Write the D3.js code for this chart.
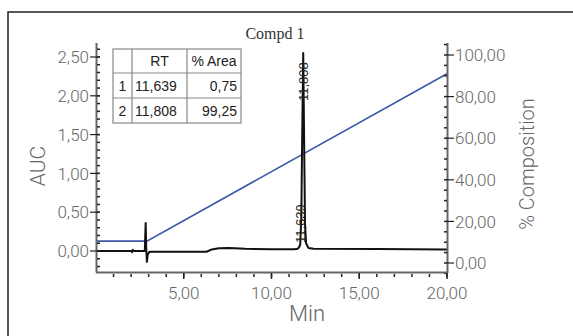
<!DOCTYPE html>
<html>
<head>
<meta charset="utf-8">
<script src="https://cdn.jsdelivr.net/npm/d3@7"></script>
<style>
  body { margin: 0; background: #fff; }
  svg text { font-family: "Liberation Sans", Arial, sans-serif; }
  .lbl { font-family: Roboto, "Liberation Sans", sans-serif; font-weight: 300; }
</style>
</head>
<body>
<script>
// chromatogram trace (time in min, AUC)
const traceTime = [0, 2.0, 2.05, 2.1, 2.15, 2.78, 2.83, 2.86, 2.9, 2.95, 3.05, 3.3, 6.3, 6.6, 7.0, 7.6, 8.5, 10.0, 11.3, 11.5, 11.6, 11.639, 11.7, 11.75, 11.808, 11.86, 11.91, 11.97, 12.1, 12.4, 16.0, 20.0];
const traceAUC  = [0, 0, -0.015, 0.015, 0, 0, 0.36, 0.05, -0.14, -0.04, -0.01, -0.01, -0.01, 0.02, 0.035, 0.04, 0.03, 0.022, 0.022, 0.03, 0.06, 0.09, 0.45, 1.5, 2.55, 1.4, 0.35, 0.1, 0.04, 0.03, 0.025, 0.02];

// gradient (% composition)
const gradTime = [0, 2.9, 20];
const gradComp = [10.5, 10.5, 91];

// peak table
const peakNo = ["1", "2"];
const peakRT = ["11,639", "11,808"];
const peakArea = ["0,75", "99,25"];

const auTicks = [0, 0.5, 1, 1.5, 2, 2.5];
const compTicks = [0, 20, 40, 60, 80, 100];
const minTicks = [5, 10, 15, 20];

const W = 573, H = 336;
const svg = d3.select("body").append("svg").attr("width", W).attr("height", H);

const loc = d3.formatLocale({decimal: ",", thousands: ".", grouping: [3], currency: ["", ""]});
const fmt = loc.format(".2f");

// scales
const X = d3.scaleLinear().domain([0, 20]).range([96, 447]);
const YL = d3.scaleLinear().domain([0, 2.5]).range([251, 57]);
const YR = d3.scaleLinear().domain([0, 100]).range([263, 55]);

// outer frame
svg.append("rect").attr("x", 8).attr("y", 12).attr("width", 700).attr("height", 500)
  .attr("fill", "none").attr("stroke", "#222").attr("stroke-width", 1.5);

// title
svg.append("text").attr("x", 275).attr("y", 39).attr("text-anchor", "middle")
  .style("font-family", "'Liberation Serif', 'DejaVu Serif', serif").style("font-size", "16px")
  .attr("fill", "#333").text("Compd 1");

const axisCol = "#666";
const tickCol = "#222";
const lblCol = "#666";

// gradient line (under axes)
const gradPts = gradTime.map((t, i) => [X(t), YR(gradComp[i])]);
svg.append("path").attr("d", d3.line()(gradPts))
  .attr("fill", "none").attr("stroke", "#3d57a8").attr("stroke-width", 1.6);

// trace
const tracePts = traceTime.map((t, i) => [X(t), YL(traceAUC[i])]);
svg.append("path").attr("d", d3.line()(tracePts))
  .attr("fill", "none").attr("stroke", "#111").attr("stroke-width", 2).attr("stroke-linejoin", "round");

// left axis
const gL = svg.append("g");
gL.append("line").attr("x1", 96.5).attr("x2", 96.5).attr("y1", 43).attr("y2", 272.5)
  .attr("stroke", axisCol).attr("stroke-width", 2);
d3.range(-2, 27).forEach(k => {
  const y = YL(k / 10);
  gL.append("line").attr("x1", 97).attr("x2", 100).attr("y1", y).attr("y2", y)
    .attr("stroke", tickCol).attr("stroke-width", 1.5);
});
auTicks.forEach(v => {
  gL.append("line").attr("x1", 90).attr("x2", 100).attr("y1", YL(v)).attr("y2", YL(v))
    .attr("stroke", tickCol).attr("stroke-width", 1.2);
  gL.append("text").attr("class", "lbl").attr("x", 89).attr("y", YL(v)).attr("dy", "0.36em").attr("text-anchor", "end")
    .style("font-size", "17px").attr("fill", lblCol).text(fmt(v));
});
svg.append("text").attr("class", "lbl").attr("transform", "translate(45,166) rotate(-90)").attr("text-anchor", "middle")
  .style("font-size", "21px").attr("fill", lblCol).text("AUC");

// right axis
const gR = svg.append("g");
gR.append("line").attr("x1", 447.5).attr("x2", 447.5).attr("y1", 43).attr("y2", 273)
  .attr("stroke", axisCol).attr("stroke-width", 2);
d3.range(-1, 22).forEach(k => {
  const y = YR(k * 5);
  gR.append("line").attr("x1", 444).attr("x2", 447).attr("y1", y).attr("y2", y)
    .attr("stroke", tickCol).attr("stroke-width", 1.5);
});
compTicks.forEach(v => {
  gR.append("line").attr("x1", 447).attr("x2", 454).attr("y1", YR(v)).attr("y2", YR(v))
    .attr("stroke", tickCol).attr("stroke-width", 1.2);
  gR.append("text").attr("class", "lbl").attr("x", 455).attr("y", YR(v)).attr("dy", "0.36em").attr("text-anchor", "start")
    .style("font-size", "17px").attr("fill", lblCol).text(fmt(v));
});
svg.append("text").attr("class", "lbl").attr("transform", "translate(534,164) rotate(-90)").attr("text-anchor", "middle")
  .style("font-size", "20px").attr("fill", lblCol).text("% Composition");

// x axis
const gX = svg.append("g");
gX.append("line").attr("x1", 96).attr("x2", 448).attr("y1", 272.5).attr("y2", 272.5)
  .attr("stroke", axisCol).attr("stroke-width", 2);
d3.range(1, 21).forEach(k => {
  gX.append("line").attr("x1", X(k)).attr("x2", X(k)).attr("y1", 274).attr("y2", 277)
    .attr("stroke", tickCol).attr("stroke-width", 1.5);
});
minTicks.forEach(v => {
  gX.append("line").attr("x1", X(v)).attr("x2", X(v)).attr("y1", 273).attr("y2", 279)
    .attr("stroke", tickCol).attr("stroke-width", 1.5);
  gX.append("text").attr("class", "lbl").attr("x", X(v)).attr("y", 299).attr("text-anchor", "middle")
    .style("font-size", "17px").attr("fill", lblCol).text(fmt(v));
});
svg.append("text").attr("class", "lbl").attr("x", 307).attr("y", 321).attr("text-anchor", "middle")
  .style("font-size", "22px").attr("fill", lblCol).text("Min");

// peak labels
const peakLabelY = [243, 101];
peakRT.forEach((rt, i) => {
  const t = +rt.replace(",", ".");
  svg.append("text").attr("transform", `translate(${X(t) + 5},${peakLabelY[i]}) rotate(-90)`)
    .style("font-size", "13px").attr("fill", "#222").text(rt);
});

// peak table
const tx = [113, 132, 187, 241];
const ty = [49, 73, 98, 123];
const tg = svg.append("g");
tg.append("rect").attr("x", tx[0]).attr("y", ty[0]).attr("width", tx[3] - tx[0]).attr("height", ty[3] - ty[0])
  .attr("fill", "#fff").attr("stroke", "#888").attr("stroke-width", 1.2);
tx.slice(1, 3).forEach(x => tg.append("line").attr("x1", x).attr("x2", x).attr("y1", ty[0]).attr("y2", ty[3]).attr("stroke", "#888").attr("stroke-width", 1.2));
ty.slice(1, 3).forEach(y => tg.append("line").attr("x1", tx[0]).attr("x2", tx[3]).attr("y1", y).attr("y2", y).attr("stroke", "#888").attr("stroke-width", 1.2));
const cellText = (x, y, s, anchor) => tg.append("text").attr("x", x).attr("y", y).attr("dy", "0.36em")
  .attr("text-anchor", anchor).style("font-size", "14px").attr("fill", "#222").text(s);
cellText((tx[1] + tx[2]) / 2, (ty[0] + ty[1]) / 2, "RT", "middle");
cellText((tx[2] + tx[3]) / 2, (ty[0] + ty[1]) / 2, "% Area", "middle");
peakNo.forEach((n, i) => {
  const yc = (ty[i + 1] + ty[i + 2]) / 2;
  cellText((tx[0] + tx[1]) / 2, yc, n, "middle");
  cellText(tx[1] + 3, yc, peakRT[i], "start");
  cellText(tx[3] - 4, yc, peakArea[i], "end");
});
</script>
</body>
</html>
